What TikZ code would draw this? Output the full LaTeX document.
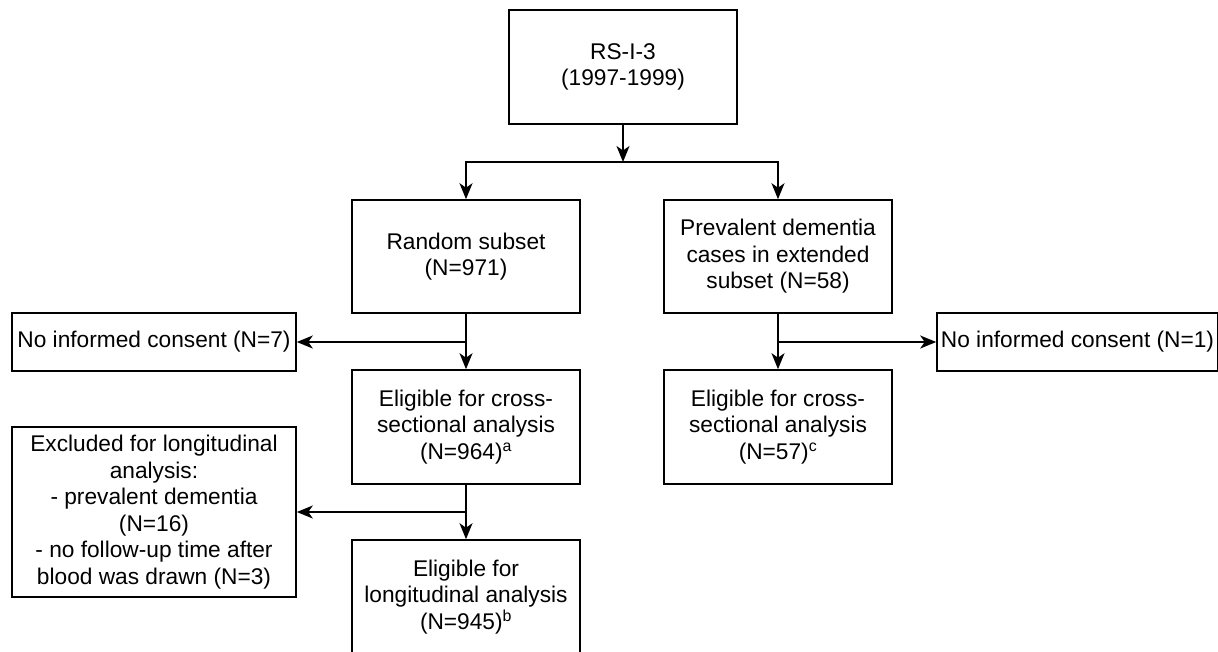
\documentclass[tikz,border=0pt]{standalone}
\usepackage{fontspec}
\setmainfont{Liberation Sans}
\usetikzlibrary{arrows.meta}

\begin{document}
\begin{tikzpicture}[x = 1pt, y = -1pt, line width = 1.6pt,
	box/.style = {draw, align = center, inner sep = 0pt, minimum width = 228pt, minimum height = 114pt, font = \fontsize{22.7}{26.5}\selectfont},
	side/.style = {box, minimum width = 284pt, minimum height = 58pt},
	arr/.style = {-{Stealth[length = 16pt, width = 13pt, inset = 4.5pt]}}]
	\useasboundingbox (0, 0) rectangle (1218, 651);
	\node[box] (rs) at (623, 67) {RS-I-3\\(1997-1999)};
	\node[box, minimum height = 113pt] (rand) at (466, 256.5) {Random subset\\(N=971)};
	\node[box, minimum height = 113pt] (prev) at (778, 256.5) {Prevalent dementia\\cases in extended\\subset (N=58)};
	\node[side] (nic7) at (154, 342) {No informed consent (N=7)};
	\node[side, minimum width = 281pt] (nic1) at (1077.5, 342) {No informed consent (N=1)};
	\node[box] (cross) at (466, 427) {Eligible for cross-\\sectional analysis\\(N=964)\textsuperscript{a}};
	\node[box] (crossdem) at (778, 427) {Eligible for cross-\\sectional analysis\\(N=57)\textsuperscript{c}};
	\node[side, minimum height = 170pt] (excl) at (154, 512) {Excluded for longitudinal\\analysis:\\- prevalent dementia\\(N=16)\\- no follow-up time after\\blood was drawn (N=3)};
	\node[box] (long) at (466, 597) {Eligible for\\longitudinal analysis\\(N=945)\textsuperscript{b}};
	\coordinate (split) at (623, 162);
	\coordinate (splitrand) at (466, 342);
	\coordinate (splitprev) at (778, 342);
	\coordinate (splitcross) at (466, 512);
	\draw[arr] (rs) -- (split);
	\draw[arr] (split) -| (rand);
	\draw[arr] (split) -| (prev);
	\draw[arr] (rand) -- (cross);
	\draw[arr] (splitrand) -- (nic7);
	\draw[arr] (prev) -- (crossdem);
	\draw[arr] (splitprev) -- (nic1);
	\draw[arr] (cross) -- (long);
	\draw[arr] (splitcross) -- (excl);
\end{tikzpicture}
\end{document}
